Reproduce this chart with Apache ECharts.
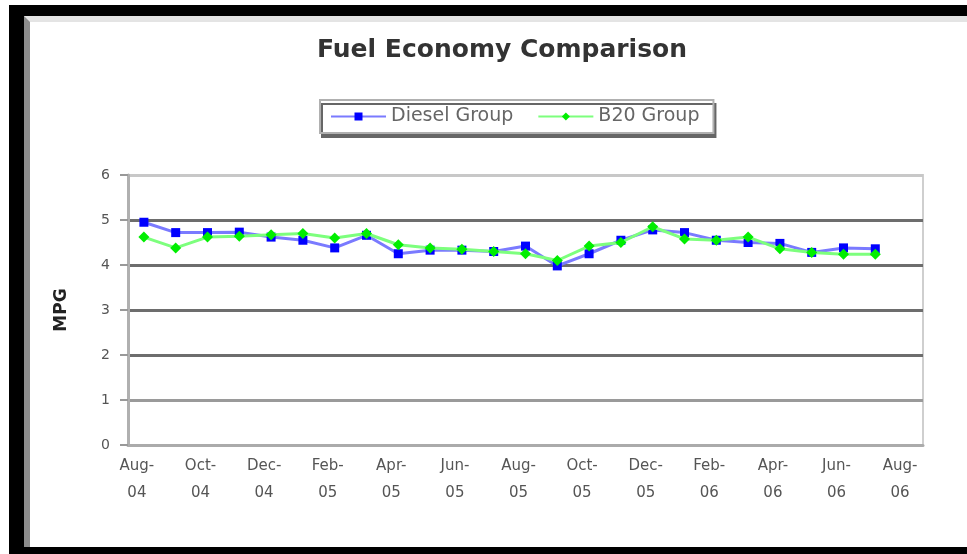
<!DOCTYPE html>
<html>
<head>
<meta charset="utf-8">
<script src="https://cdn.jsdelivr.net/npm/echarts@6/dist/echarts.min.js"></script>
<style>
  html, body { margin: 0; padding: 0; background: #fff; }
  #frame { position: absolute; left: 9px; top: 5px; width: 943px; height: 531px;
           border-left: 15px solid #000; border-top: 11px solid #000; border-bottom: 7px solid #000; }
  #inner { position: absolute; left: 24px; top: 16px; width: 943px; height: 525px;
           border-left: 6px solid #8c8c8c; border-top: 6px solid #e4e4e4; }
  #chart { position: absolute; left: 0; top: 0; width: 967px; height: 554px; }
</style>
</head>
<body>
<div id="frame"></div>
<div id="inner"></div>
<div id="chart"></div>
<script>
// Months Aug-04 .. Aug-06 (25 categories, data through Jul-06)
const months = ['Aug-\n04','Sep-\n04','Oct-\n04','Nov-\n04','Dec-\n04','Jan-\n05','Feb-\n05','Mar-\n05',
  'Apr-\n05','May-\n05','Jun-\n05','Jul-\n05','Aug-\n05','Sep-\n05','Oct-\n05','Nov-\n05','Dec-\n05',
  'Jan-\n06','Feb-\n06','Mar-\n06','Apr-\n06','May-\n06','Jun-\n06','Jul-\n06','Aug-\n06'];
const dieselGroup = [4.95, 4.72, 4.72, 4.73, 4.62, 4.55, 4.38, 4.66, 4.25, 4.33, 4.33, 4.30,
  4.42, 3.98, 4.25, 4.55, 4.78, 4.72, 4.55, 4.50, 4.48, 4.28, 4.38, 4.36];
const b20Group = [4.62, 4.38, 4.62, 4.64, 4.67, 4.70, 4.60, 4.70, 4.45, 4.38, 4.35, 4.30,
  4.25, 4.10, 4.42, 4.50, 4.85, 4.58, 4.55, 4.62, 4.36, 4.28, 4.24, 4.24];
const yTicks = [0, 1, 2, 3, 4, 5, 6];

const chart = echarts.init(document.getElementById('chart'));
chart.setOption({
  animation: false,
  title: {
    text: 'Fuel Economy Comparison',
    left: 497, top: 33, textAlign: 'center',
    textStyle: { fontFamily: 'DejaVu Sans', fontWeight: 'bold', fontSize: 25, color: '#333' }
  },
  legend: {
    left: 320, top: 100,
    padding: [7, 14, 7, 10],
    itemGap: 24, itemWidth: 55, itemHeight: 10,
    borderColor: '#b0b0b0', borderWidth: 2,
    backgroundColor: '#fff',
    shadowColor: '#666', shadowOffsetX: 2, shadowOffsetY: 4, shadowBlur: 0,
    textStyle: { fontFamily: 'DejaVu Sans', fontSize: 19, color: '#666' },
    data: ['Diesel Group', 'B20 Group']
  },
  grid: { left: 128, right: 44, top: 175, bottom: 109, show: true,
          borderColor: '#cfcfcf', borderWidth: 2, backgroundColor: 'transparent' },
  xAxis: {
    type: 'category',
    data: months,
    boundaryGap: true,
    axisLine: { lineStyle: { color: '#ababab', width: 3 } },
    axisTick: { interval: 1, length: 6, lineStyle: { color: '#aaa', width: 2 } },
    axisLabel: { interval: 1, margin: 8, fontFamily: 'DejaVu Sans', fontSize: 15,
                 lineHeight: 27, color: '#555', padding: [0, 14, 0, 0] },
    splitLine: { show: false }
  },
  yAxis: {
    type: 'value', min: yTicks[0], max: yTicks[yTicks.length - 1], interval: 1,
    name: 'MPG', nameLocation: 'middle', nameGap: 58, nameRotate: 90,
    nameTextStyle: { fontFamily: 'DejaVu Sans', fontWeight: 'bold', fontSize: 17, color: '#222' },
    axisLine: { show: true, lineStyle: { color: '#b0b0b0', width: 3 } },
    axisTick: { show: true, length: 8, lineStyle: { color: '#999', width: 2 } },
    axisLabel: { margin: 18, fontFamily: 'DejaVu Sans', fontSize: 14, color: '#555' },
    splitLine: { show: true, lineStyle: { width: 3,
      color: ['#b5b5b5', '#9a9a9a', '#6d6d6d', '#6d6d6d', '#6d6d6d', '#6d6d6d', '#c8c8c8'] } }
  },
  series: [
    { name: 'Diesel Group', type: 'line', data: dieselGroup,
      symbol: 'rect', symbolSize: 9,
      itemStyle: { color: '#0000ff' },
      lineStyle: { color: '#7a7aff', width: 3 }, z: 3 },
    { name: 'B20 Group', type: 'line', data: b20Group,
      symbol: 'diamond', symbolSize: 11,
      itemStyle: { color: '#00ee00' },
      lineStyle: { color: '#7dff7d', width: 3 }, z: 4 }
  ]
});
</script>
</body>
</html>
